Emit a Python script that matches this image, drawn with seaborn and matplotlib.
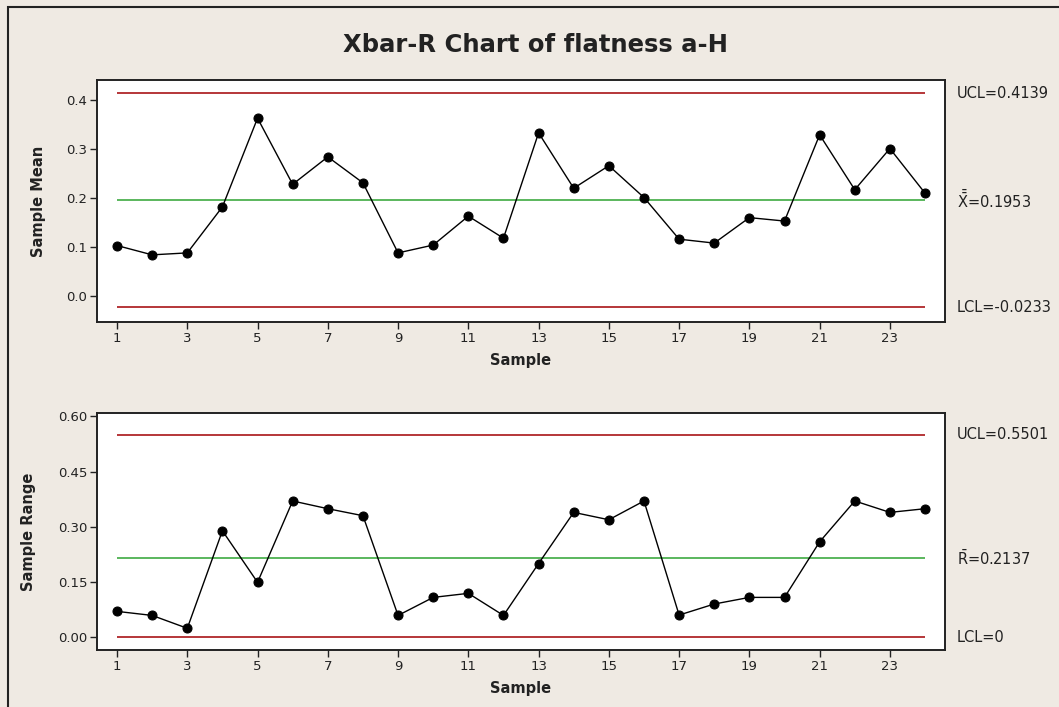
import numpy as np
import pandas as pd
import matplotlib
matplotlib.use("Agg")
import matplotlib.pyplot as plt
import matplotlib.transforms as mtransforms
from matplotlib.patches import Rectangle
import seaborn as sns

# Subgroup data for flatness a-H
samples = list(range(1, 25))
sample_means = [0.103, 0.084, 0.088, 0.182, 0.363, 0.228, 0.284, 0.231,
                0.088, 0.104, 0.163, 0.118, 0.333, 0.220, 0.266, 0.201,
                0.116, 0.108, 0.160, 0.153, 0.329, 0.217, 0.301, 0.210]
sample_ranges = [0.070, 0.059, 0.024, 0.289, 0.149, 0.370, 0.349, 0.330,
                 0.059, 0.108, 0.119, 0.059, 0.200, 0.339, 0.319, 0.370,
                 0.060, 0.090, 0.108, 0.108, 0.259, 0.370, 0.339, 0.349]

# Control limits
xbar_limits = {"UCL": 0.4139, "CL": 0.1953, "LCL": -0.0233}
r_limits = {"UCL": 0.5501, "CL": 0.2137, "LCL": 0.0}
xbar_labels = ["UCL=0.4139", r"$\bar{\bar{\mathrm{X}}}$=0.1953", "LCL=-0.0233"]
r_labels = ["UCL=0.5501", r"$\bar{\mathrm{R}}$=0.2137", "LCL=0"]

x_ticks = list(range(1, 24, 2))
mean_ticks = [0.0, 0.1, 0.2, 0.3, 0.4]
range_ticks = [0.00, 0.15, 0.30, 0.45, 0.60]

sns.set_theme(style="white")
plt.rcParams["font.family"] = ["DejaVu Sans"]
plt.rcParams["mathtext.fontset"] = "dejavusans"

bg = "#EFEAE3"
red = "#B0262A"
green = "#4DB151"

fig = plt.figure(figsize=(10.59, 7.07), dpi=100, facecolor=bg)
ax1 = fig.add_axes([0.0916, 0.5446, 0.8008, 0.3423])
ax2 = fig.add_axes([0.0916, 0.0806, 0.8008, 0.3352])

# Outer frame of the chart window
fig.patches.append(Rectangle((8 / 1059, -0.1), 1.2, 1 - 7 / 707 + 0.1,
                             transform=fig.transFigure, fill=False,
                             edgecolor="#222222", linewidth=1.5))

df = pd.DataFrame({"Sample": samples, "Mean": sample_means, "Range": sample_ranges})


def draw_panel(ax, ycol, limits, labels, yticks, ylim, yfmt, ylabel):
    ax.set_facecolor("white")
    for key, col in (("UCL", red), ("CL", green), ("LCL", red)):
        ax.hlines(limits[key], samples[0], samples[-1], color=col, linewidth=1.3, zorder=1)
    sns.lineplot(data=df, x="Sample", y=ycol, ax=ax, color="black", linewidth=1.0,
                 marker="o", markersize=6.5, markeredgecolor="black", zorder=3)
    ax.set_xlim(0.43, 24.57)
    ax.set_ylim(*ylim)
    ax.set_xticks(x_ticks)
    ax.set_xticklabels([str(t) for t in x_ticks])
    ax.set_yticks(yticks)
    ax.set_yticklabels([yfmt.format(t) for t in yticks])
    ax.tick_params(axis="both", which="both", direction="out", length=5, width=1,
                   color="#222222", labelsize=9.5, labelcolor="#222222",
                   left=True, bottom=True, pad=2)
    for sp in ax.spines.values():
        sp.set_visible(True)
        sp.set_color("#222222")
        sp.set_linewidth(1.4)
    ax.set_xlabel("Sample", fontsize=10.5, fontweight="bold", color="#222222", labelpad=6)
    ax.set_ylabel(ylabel, fontsize=10.5, fontweight="bold", color="#222222")
    trans = mtransforms.blended_transform_factory(ax.transAxes, ax.transData)
    for key, lab in zip(("UCL", "CL", "LCL"), labels):
        ax.text(1.014, limits[key], lab, transform=trans, ha="left", va="center",
                fontsize=10.5, color="#222222")


draw_panel(ax1, "Mean", xbar_limits, xbar_labels, mean_ticks, (-0.053, 0.441),
           "{:.1f}", "Sample Mean")
draw_panel(ax2, "Range", r_limits, r_labels, range_ticks, (-0.035, 0.609),
           "{:.2f}", "Sample Range")
ax1.yaxis.set_label_coords(-0.060, 0.5)
ax2.yaxis.set_label_coords(-0.072, 0.5)

fig.text(0.506, 1 - 45 / 707, "Xbar-R Chart of flatness a-H", ha="center", va="center",
         fontsize=17.5, fontweight="bold", color="#222222")

fig.savefig("out.png", dpi=100, facecolor=bg)
